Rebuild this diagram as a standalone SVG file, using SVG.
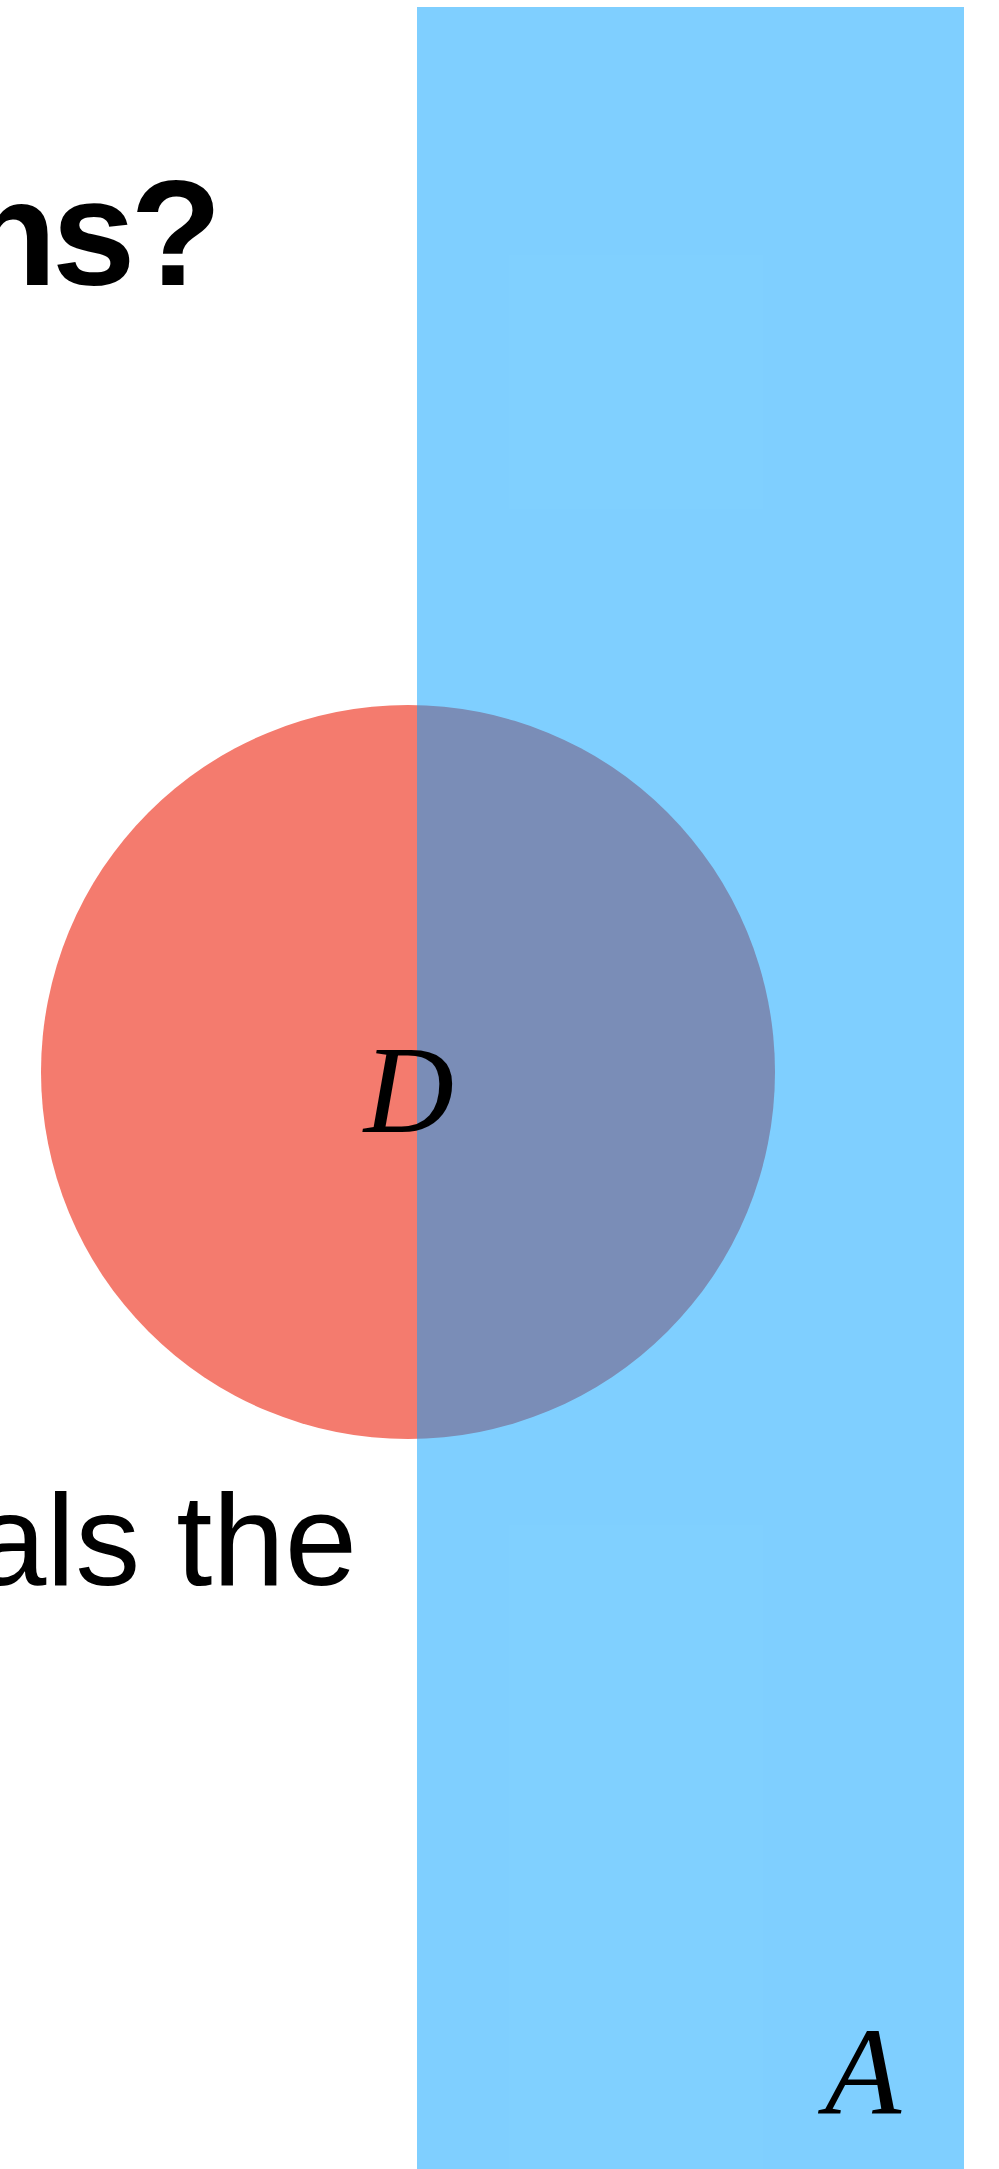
<svg xmlns="http://www.w3.org/2000/svg" width="999" height="2169" viewBox="0 0 999 2169">
<style>
.title{font-family:"Liberation Sans",Arial,sans-serif;font-weight:bold;font-size:150px;fill:#000;letter-spacing:-5px}
.body{font-family:"Liberation Sans",Arial,sans-serif;font-size:130px;fill:#000}
.lbl{font-family:"Liberation Serif","Times New Roman",serif;font-style:italic;font-size:125px;fill:#000}
</style>
<rect width="999" height="2169" fill="#ffffff"/>
<text class="title" x="217" y="285" text-anchor="end">ns?</text>
<g id="setD"><circle cx="408" cy="1072" r="367" fill="#F47B6E"/></g>
<g id="setA"><rect x="417" y="7" width="547" height="2162" fill="#00A0FF" fill-opacity="0.5"/></g>
<text class="body" x="357" y="1585" text-anchor="end">als the</text>
<g id="connectors"></g>
<text class="lbl" x="409" y="1132" text-anchor="middle">D</text>
<text class="lbl" x="863" y="2114" text-anchor="middle">A</text>
</svg>
